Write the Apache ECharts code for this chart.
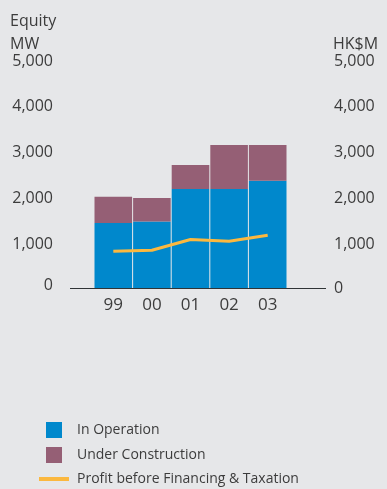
<!DOCTYPE html>
<html>
<head>
<meta charset="utf-8">
<script src="https://cdn.jsdelivr.net/npm/echarts@6/dist/echarts.min.js"></script>
<style>
html,body{margin:0;padding:0;background:#e6e7e9;}
#c{width:387px;height:489px;}
</style>
</head>
<body>
<div id="c"></div>
<script>
const categories = ['99', '00', '01', '02', '03'];
const inOperation = [1420, 1450, 2160, 2160, 2340];
const underConstruction = [570, 515, 525, 960, 780];
const profit = [800, 825, 1060, 1020, 1150];
const leftTicks = [0, 1000, 2000, 3000, 4000, 5000];

const FONT = '"Open Sans", "Noto Sans", sans-serif';
const TXT = '#3c3c3c';

const chart = echarts.init(document.getElementById('c'), null, {renderer: 'canvas'});

function fmt(v) {
  const s = v.toLocaleString('en-US');
  return v === 0 ? '{z|' + s + '}' : s;
}

chart.setOption({
  backgroundColor: '#e6e7e9',
  animation: false,
  title: [
    {text: 'Equity\nMW', left: 10, top: 10, padding: 0, textStyle: {fontFamily: FONT, fontSize: 16, fontWeight: 'normal', color: TXT, lineHeight: 23}},
    {text: 'HK$M', left: 333, top: 33, padding: 0, textStyle: {fontFamily: FONT, fontSize: 16, fontWeight: 'normal', color: TXT, lineHeight: 23}}
  ],
  grid: {left: 94, right: 100, top: 59, bottom: 201},
  legend: [
    {data: ['In Operation'], orient: 'vertical', left: 46, top: 422, padding: 0, itemWidth: 16, itemHeight: 16, icon: 'rect',
     textStyle: {fontFamily: FONT, fontSize: 14, color: TXT, padding: [0, 0, 0, 10]}},
    {data: ['Under Construction'], orient: 'vertical', left: 46, top: 447, padding: 0, itemWidth: 16, itemHeight: 16, icon: 'rect',
     textStyle: {fontFamily: FONT, fontSize: 14, color: TXT, padding: [0, 0, 0, 10]}},
    {data: ['Profit before Financing & Taxation'], orient: 'vertical', left: 39, top: 472, padding: 0, itemWidth: 30, itemHeight: 4, icon: 'rect',
     textStyle: {fontFamily: FONT, fontSize: 14, color: TXT, padding: [0, 0, 0, 3]}}
  ],
  xAxis: {
    type: 'category', data: categories,
    axisLine: {show: false}, axisTick: {show: false},
    axisLabel: {fontFamily: FONT, fontSize: 17, color: TXT, margin: 9}
  },
  yAxis: [
    {type: 'value', min: 0, max: 5000, interval: 1000, position: 'left',
     splitLine: {show: false}, axisLine: {show: false}, axisTick: {show: false},
     axisLabel: {fontFamily: FONT, fontSize: 16, color: TXT, margin: 41, padding: [4, 0, 0, 0], formatter: fmt,
       rich: {z: {fontFamily: FONT, fontSize: 16, color: TXT, padding: [0, 0, 10, 0]}}}},
    {type: 'value', min: 0, max: 5000, interval: 1000, position: 'right',
     splitLine: {show: false}, axisLine: {show: false}, axisTick: {show: false},
     axisLabel: {fontFamily: FONT, fontSize: 16, color: TXT, margin: 47, padding: [4, 0, 0, 0], formatter: fmt,
       rich: {z: {fontFamily: FONT, fontSize: 16, color: TXT, padding: [0, 0, 4, 0]}}}}
  ],
  graphic: [
    {type: 'line', shape: {x1: 70, y1: 288.5, x2: 326, y2: 288.5}, style: {stroke: '#2f3436', lineWidth: 1.2}, z: 10}
  ],
  series: [
    {name: 'In Operation', type: 'bar', stack: 'mw', data: inOperation, barCategoryGap: '2.6%',
     itemStyle: {color: '#0088cc'}},
    {name: 'Under Construction', type: 'bar', stack: 'mw', data: underConstruction,
     itemStyle: {color: '#955f75'}},
    {name: 'Profit before Financing & Taxation', type: 'line', yAxisIndex: 1, data: profit,
     symbol: 'none', lineStyle: {color: '#fbb83f', width: 3}, itemStyle: {color: '#fbb83f'}, z: 5}
  ]
});
</script>
</body>
</html>
